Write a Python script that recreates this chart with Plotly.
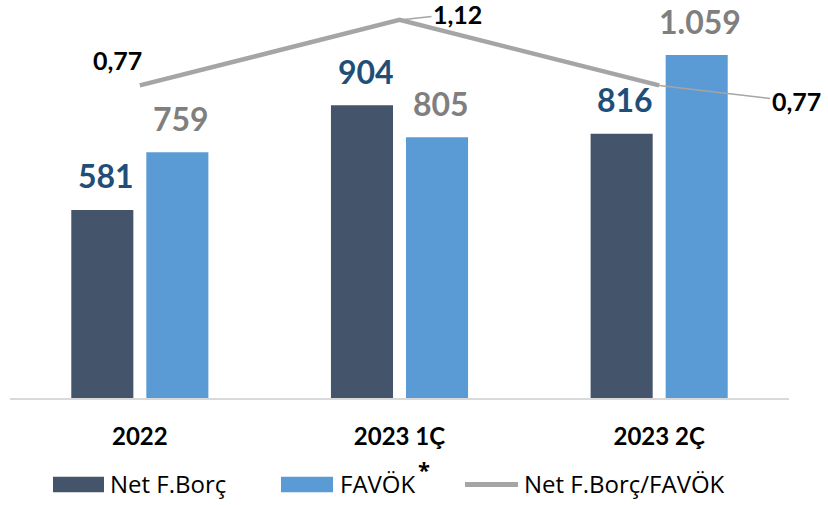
import plotly.graph_objects as go

# ---- data ----
categories = ["2022", "2023 1Ç", "2023 2Ç"]
net_borc = [581, 904, 816]
favok = [759, 805, 1059]
ratio = [0.77, 1.12, 0.77]
series_names = ["Net F.Borç", "FAVÖK", "Net F.Borç/FAVÖK"]
favok_mark = "*"

# ---- style ----
C_DARK = "#44546A"
C_LIGHT = "#5B9BD5"
C_LINE = "#A5A5A5"
C_DARK_LBL = "#1F4E79"
C_LIGHT_LBL = "#7F7F7F"
FONT = "Lato"
LEG_FONT = "Open Sans"

W, H = 828, 505
ML, MR, MT, MB = 10, 39, 10, 107
PW, PH = W - ML - MR, H - MT - MB


def px_x(p):
    return (p - ML) / PW


def px_y(p):
    return (H - MB - p) / PH


def tr_int(v):
    return f"{v:,}".replace(",", ".")


def tr_dec(v):
    return f"{v:.2f}".replace(".", ",")


fig = go.Figure()
fig.add_trace(go.Bar(x=categories, y=net_borc, name=series_names[0],
                     marker=dict(color=C_DARK, line=dict(width=0)), showlegend=False))
fig.add_trace(go.Bar(x=categories, y=favok, name=series_names[1],
                     marker=dict(color=C_LIGHT, line=dict(width=0)), showlegend=False))
fig.add_trace(go.Scatter(x=categories, y=ratio, name=series_names[2], yaxis="y2",
                         mode="lines", line=dict(color=C_LINE, width=4.5),
                         showlegend=False))

annotations = []
# bar value labels (x given as category index)
for i, v in enumerate(net_borc):
    annotations.append(dict(x=i, y=v, xref="x", yref="y", text=tr_int(v), showarrow=False,
                            xshift=-34, yshift=34, yanchor="middle",
                            font=dict(family=FONT, size=32, color=C_DARK_LBL, weight="bold")))
for i, v in enumerate(favok):
    annotations.append(dict(x=i, y=v, xref="x", yref="y", text=tr_int(v), showarrow=False,
                            xshift=41, yshift=34, yanchor="middle",
                            font=dict(family=FONT, size=32, color=C_LIGHT_LBL, weight="bold")))

# ratio labels
lbl_font = dict(family=FONT, size=25, color="#000000", weight="bold")
annotations.append(dict(x=0, y=ratio[0], xref="x", yref="y2", text=tr_dec(ratio[0]),
                        showarrow=False, xshift=-22, yshift=25, font=lbl_font))
annotations.append(dict(x=1, y=ratio[1], xref="x", yref="y2", text=tr_dec(ratio[1]),
                        showarrow=True, arrowhead=0, arrowwidth=1.5, arrowcolor=C_LINE,
                        ax=58, ay=-6, standoff=0, font=lbl_font))
annotations.append(dict(x=2, y=ratio[2], xref="x", yref="y2", text=tr_dec(ratio[2]),
                        showarrow=True, arrowhead=0, arrowwidth=1.5, arrowcolor=C_LINE,
                        ax=137, ay=16, standoff=0, font=lbl_font))

# manual legend
shapes = []
leg_y_top, leg_y_bot, leg_cy = 476.7, 492.3, 484.5
leg_text_cy = 483
leg_font = dict(family=LEG_FONT, size=24, color="#000000")
shapes.append(dict(type="rect", xref="paper", yref="paper",
                   x0=px_x(53), x1=px_x(104), y0=px_y(leg_y_bot), y1=px_y(leg_y_top),
                   fillcolor=C_DARK, line=dict(width=0)))
shapes.append(dict(type="rect", xref="paper", yref="paper",
                   x0=px_x(281), x1=px_x(333), y0=px_y(leg_y_bot), y1=px_y(leg_y_top),
                   fillcolor=C_LIGHT, line=dict(width=0)))
shapes.append(dict(type="line", xref="paper", yref="paper",
                   x0=px_x(465), x1=px_x(518), y0=px_y(leg_cy), y1=px_y(leg_cy),
                   line=dict(color=C_LINE, width=5)))
annotations.append(dict(x=px_x(108), y=px_y(leg_text_cy), xref="paper", yref="paper",
                        text=series_names[0], showarrow=False, xanchor="left", yanchor="middle",
                        font=leg_font))
annotations.append(dict(x=px_x(338), y=px_y(leg_text_cy), xref="paper", yref="paper",
                        text=series_names[1], showarrow=False, xanchor="left", yanchor="middle",
                        font=leg_font))
annotations.append(dict(x=px_x(416), y=px_y(469), xref="paper", yref="paper",
                        text=favok_mark, showarrow=False, xanchor="left", yanchor="middle",
                        font=dict(family=LEG_FONT, size=22, color="#000000", weight="bold")))
annotations.append(dict(x=px_x(522), y=px_y(leg_text_cy), xref="paper", yref="paper",
                        text=series_names[2], showarrow=False, xanchor="left", yanchor="middle",
                        font=leg_font))

fig.update_layout(
    width=W, height=H,
    margin=dict(l=ML, r=MR, t=MT, b=MB, pad=0),
    paper_bgcolor="white", plot_bgcolor="white",
    barmode="group", bargap=0.422, bargroupgap=0.173,
    showlegend=False,
    xaxis=dict(type="category", range=[-0.5, len(categories) - 0.5],
               showline=True, linecolor="#D9D9D9", linewidth=2,
               showgrid=False, ticks="outside", ticklen=16, tickcolor="rgba(0,0,0,0)",
               tickfont=dict(family=FONT, size=24, color="#000000", weight="bold"),
               fixedrange=True),
    yaxis=dict(range=[0, 1198.3], visible=False, showgrid=False, fixedrange=True),
    yaxis2=dict(range=[-0.900, 1.173], overlaying="y", visible=False, showgrid=False,
                fixedrange=True),
    annotations=annotations,
    shapes=shapes,
)

fig.write_html("out.html", config={"displayModeBar": False},
               post_script="document.body.style.margin='0';")
